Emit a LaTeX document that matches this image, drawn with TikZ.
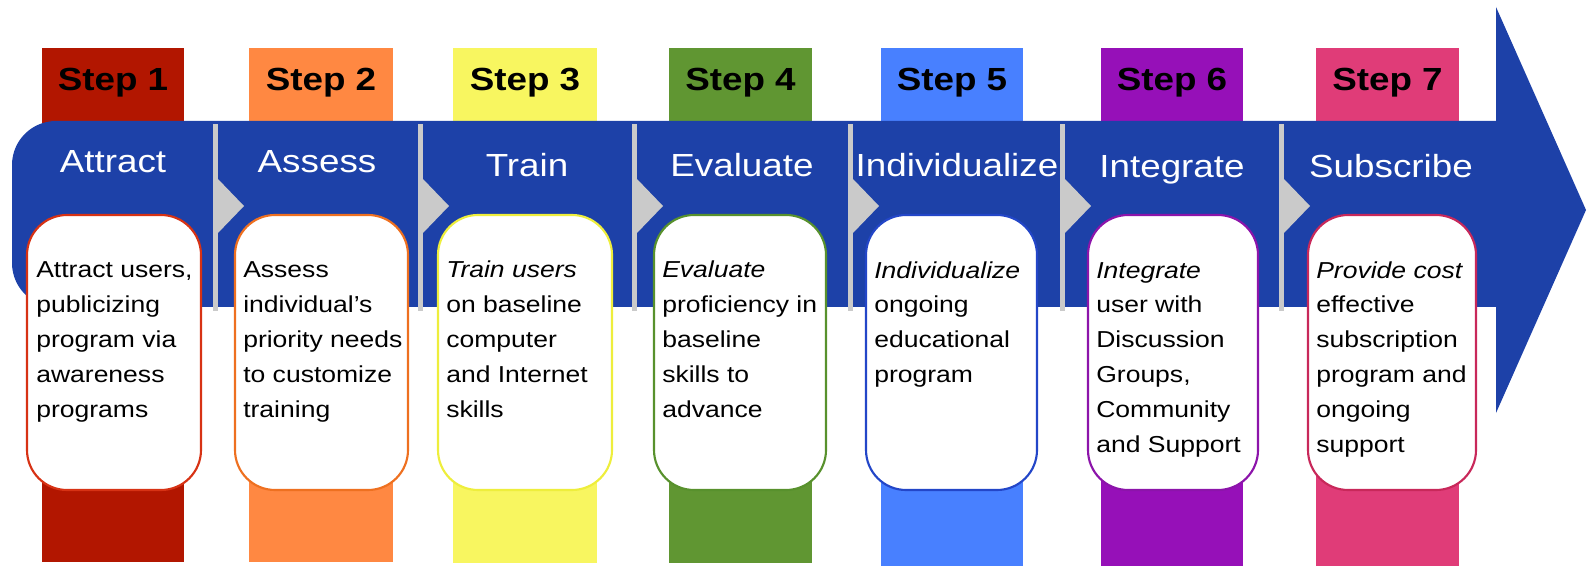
\documentclass[tikz,border=0pt]{standalone}
\usepackage{fontspec}
\setmainfont{Liberation Sans}[FakeStretch=1.15]
\definecolor{bandblue}{RGB}{29,65,168}
\definecolor{gapgray}{RGB}{202,202,202}
\definecolor{c1}{RGB}{178,22,0}\definecolor{b1}{RGB}{215,50,20}
\definecolor{c2}{RGB}{255,136,66}\definecolor{b2}{RGB}{238,112,32}
\definecolor{c3}{RGB}{248,246,96}\definecolor{b3}{RGB}{238,238,60}
\definecolor{c4}{RGB}{96,150,50}\definecolor{b4}{RGB}{88,145,45}
\definecolor{c5}{RGB}{72,128,255}\definecolor{b5}{RGB}{35,70,200}
\definecolor{c6}{RGB}{150,16,184}\definecolor{b6}{RGB}{140,20,170}
\definecolor{c7}{RGB}{224,60,120}\definecolor{b7}{RGB}{200,40,90}
\tikzset{
  steplabel/.style={font=\fontsize{24}{28}\selectfont\bfseries, text=black, inner sep=0pt, anchor=base},
  titletext/.style={font=\fontsize{24}{28}\selectfont, text=white, inner sep=0pt, anchor=base},
  descbox/.style={fill=white, line width=1.6pt, rounded corners=30pt},
  desctext/.style={font=\fontsize{17.3}{26.2}\selectfont, text=black, inner sep=0pt, anchor=base west, align=left},
  gap/.style={fill=gapgray, draw=none},
}
\begin{document}
\begin{tikzpicture}[x=0.75pt,y=-0.75pt]
\useasboundingbox (0,0) rectangle (1588,566);
% coloured step bars
\foreach \i/\l/\r/\b in {1/42/184/562,2/249/393/562,3/453/597/563,4/669/812/563,5/881/1023/566,6/1101/1243/566,7/1316/1459/566}{
  \fill[c\i] (\l,48) rectangle (\r,\b);
  \node[steplabel] (step\i) at ({(\l+\r)/2},91) {Step \i};
}
% blue band and arrow head
\fill[bandblue] (1496,121) -- (45,121) [rounded corners=33pt] -- (12,121) -- (12,307) [sharp corners] -- (1496,307) -- cycle;
\fill[bandblue] (1496,7) -- (1586,210) -- (1496,413) -- cycle;
\fill[bandblue] (1480,121) rectangle (1500,307);
% gray separators with chevrons
\foreach \x in {213,418,632,848,1060,1279}{
  \fill[gap] (\x,124) rectangle (\x+5,311);
  \fill[gap] (\x+4,178) -- (\x+31,206) -- (\x+4,234) -- cycle;
}
% titles
\node[titletext] (t1) at (113,173) {Attract};
\node[titletext] (t2) at (317,173) {Assess};
\node[titletext] (t3) at (527,177) {Train};
\node[titletext] (t4) at (742,177) {Evaluate};
\node[titletext] (t5) at (957,177) {Individualize};
\node[titletext] (t6) at (1172,178) {Integrate};
\node[titletext] (t7) at (1391,178) {Subscribe};
% description boxes
\foreach \i/\l/\r in {1/27/201,2/235/408,3/438/612,4/654/826,5/866/1037,6/1088/1258,7/1308/1476}{
  \draw[descbox, draw=b\i] (\l,215) rectangle (\r,490);
}
% texts: anchor is the baseline of the last line (first line baseline at 278)
\node[desctext] (d1) at (36,417.7) {Attract users,\\publicizing\\program via\\awareness\\programs};
\node[desctext] (d2) at (243,417.7) {Assess\\individual’s\\priority needs\\to customize\\training};
\node[desctext] (d3) at (446,417.7) {\itshape Train users\\on baseline\\computer\\and Internet\\skills};
\node[desctext] (d4) at (662,417.7) {\itshape Evaluate\\proficiency in\\baseline\\skills to\\advance};
\node[desctext] (d5) at (874,382.8) {\itshape Individualize\\ongoing\\educational\\program};
\node[desctext] (d6) at (1096,452.7) {\itshape Integrate\\user with\\Discussion\\Groups,\\Community\\and Support};
\node[desctext] (d7) at (1316,452.7) {\itshape Provide cost\\effective\\subscription\\program and\\ongoing\\support};
\end{tikzpicture}
\end{document}
